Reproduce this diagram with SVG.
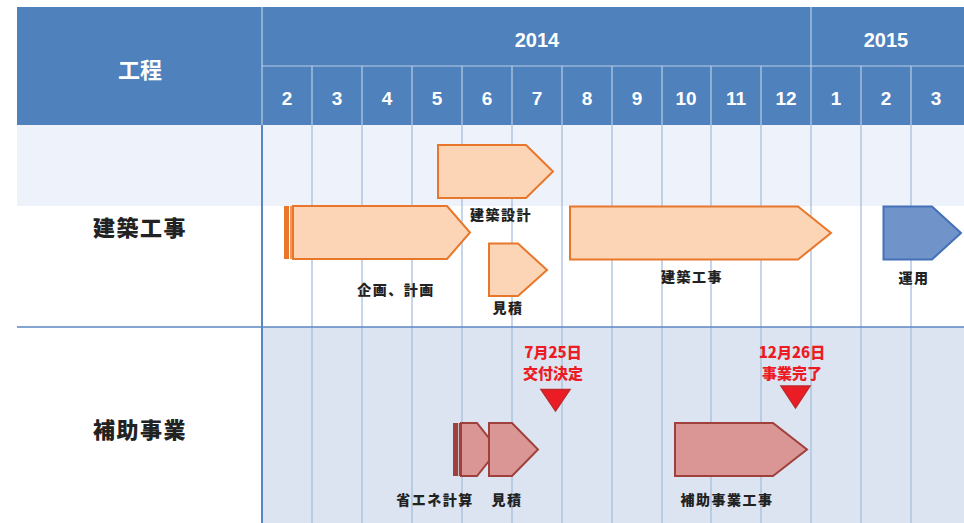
<svg xmlns="http://www.w3.org/2000/svg" width="964" height="523" viewBox="0 0 964 523">
<style>
.hdr{fill:#4F81BD}
.ht{font-family:"Liberation Sans","Noto Sans CJK JP",sans-serif;font-weight:bold;fill:#fff;text-anchor:middle}
.mo{font-size:19px}
.hl{stroke:#B9CDE5;stroke-width:1.2}
.gl{stroke:#A8BFDE;stroke-width:1.3}
.ob{fill:#FBD5B5;stroke:#E8762B;stroke-width:2}
.rb{fill:#D99694;stroke:#A0403D;stroke-width:2}
.lb{font-family:"Noto Sans CJK JP","Liberation Sans",sans-serif;font-weight:900;font-size:14px;letter-spacing:1.5px;fill:#222;text-anchor:middle}
.rl{font-family:"Noto Sans CJK JP","Liberation Sans",sans-serif;font-weight:900;font-size:15px;fill:#EC1C24;text-anchor:middle}
.big{font-family:"Noto Sans CJK JP","Liberation Sans",sans-serif;font-weight:900;font-size:22px;letter-spacing:1.5px;fill:#222;text-anchor:middle}
.tri{fill:#EC1C24;stroke:#C0282B;stroke-width:1.5}
</style>
<rect width="964" height="523" fill="#fff"/>
<g id="background">
<rect x="17" y="125" width="947" height="81" fill="#EEF2FA"/>
<rect x="262" y="327" width="702" height="196" fill="#DCE4F1"/>
</g>
<g id="header">
<rect class="hdr" x="17" y="7" width="947" height="118"/>
<line class="hl" x1="262" y1="7" x2="262" y2="125"/>
<line class="hl" x1="811" y1="7" x2="811" y2="125"/>
<line class="hl" x1="262" y1="66" x2="964" y2="66"/>
<g class="hl">
<line x1="312" y1="66" x2="312" y2="125"/><line x1="362" y1="66" x2="362" y2="125"/><line x1="412" y1="66" x2="412" y2="125"/><line x1="462" y1="66" x2="462" y2="125"/><line x1="512" y1="66" x2="512" y2="125"/><line x1="562" y1="66" x2="562" y2="125"/><line x1="612" y1="66" x2="612" y2="125"/><line x1="662" y1="66" x2="662" y2="125"/><line x1="711" y1="66" x2="711" y2="125"/><line x1="761" y1="66" x2="761" y2="125"/><line x1="861" y1="66" x2="861" y2="125"/><line x1="911" y1="66" x2="911" y2="125"/>
</g>
<text class="ht" x="140" y="78" font-size="22" font-family="Noto Sans CJK JP,sans-serif">工程</text>
<text class="ht" x="537" y="47" font-size="20">2014</text>
<text class="ht" x="886" y="47" font-size="20">2015</text>
<g class="ht mo">
<text x="287" y="105">2</text><text x="337" y="105">3</text><text x="387" y="105">4</text><text x="437" y="105">5</text><text x="487" y="105">6</text><text x="537" y="105">7</text><text x="587" y="105">8</text><text x="637" y="105">9</text><text x="686" y="105">10</text><text x="736" y="105">11</text><text x="786" y="105">12</text><text x="836" y="105">1</text><text x="886" y="105">2</text><text x="936" y="105">3</text>
</g>
</g>
<g id="grid">
<g class="gl">
<line x1="312" y1="125" x2="312" y2="523"/><line x1="362" y1="125" x2="362" y2="523"/><line x1="412" y1="125" x2="412" y2="523"/><line x1="462" y1="125" x2="462" y2="523"/><line x1="512" y1="125" x2="512" y2="523"/><line x1="562" y1="125" x2="562" y2="523"/><line x1="612" y1="125" x2="612" y2="523"/><line x1="662" y1="125" x2="662" y2="523"/><line x1="711" y1="125" x2="711" y2="523"/><line x1="761" y1="125" x2="761" y2="523"/><line x1="811" y1="125" x2="811" y2="523"/><line x1="861" y1="125" x2="861" y2="523"/><line x1="911" y1="125" x2="911" y2="523"/>
</g>
<line x1="17" y1="327" x2="964" y2="327" stroke="#5B86C5" stroke-width="1.5"/>
<line x1="262" y1="125" x2="262" y2="523" stroke="#5B86C5" stroke-width="2"/>
</g>
<g id="row-labels">
<text class="big" x="140" y="236">建築工事</text>
<text class="big" x="140" y="438">補助事業</text>
</g>
<g id="kenchiku-sekkei">
<polygon class="ob" points="438,145 526,145 553,171.5 526,198 438,198"/>
<text class="lb" x="501" y="220">建築設計</text>
</g>
<g id="kikaku-keikaku">
<rect x="284" y="206" width="5" height="53" fill="#E8762B"/>
<line x1="291" y1="206" x2="291" y2="259" stroke="#E8762B" stroke-width="1.5"/>
<polygon class="ob" points="293,206 447,206 470,232.5 447,259 293,259"/>
<text class="lb" x="396" y="295">企画、計画</text>
</g>
<g id="mitsumori-1">
<polygon class="ob" points="489,243.5 518,243.5 547,270 518,296 489,296"/>
<text class="lb" x="508" y="313">見積</text>
</g>
<g id="kenchiku-kouji">
<polygon class="ob" points="570,206.5 798,206.5 831,233 798,259.5 570,259.5"/>
<text class="lb" x="692" y="282">建築工事</text>
</g>
<g id="unyou">
<polygon points="883.5,206.5 932,206.5 961,233 932,259.5 883.5,259.5" fill="#7093CA" stroke="#4470B8" stroke-width="2"/>
<text class="lb" x="914" y="283">運用</text>
</g>
<g id="shouene">
<rect x="453" y="423" width="5" height="53" fill="#A0403D"/>
<line x1="459.5" y1="423" x2="459.5" y2="476" stroke="#A0403D" stroke-width="1.5"/>
<polygon class="rb" points="461,423 477,423 498,449.5 477,476 461,476"/>
<text class="lb" x="435" y="505">省エネ計算</text>
</g>
<g id="mitsumori-2">
<polygon class="rb" points="489,423 512,423 538,449.5 512,476 489,476"/>
<text class="lb" x="507" y="505">見積</text>
</g>
<g id="hojo-kouji">
<polygon class="rb" points="675,423 773,423 807,449.5 773,476 675,476"/>
<text class="lb" x="727" y="505">補助事業工事</text>
</g>
<g id="milestone-1">
<text class="rl" x="553" y="358">7月25日</text>
<text class="rl" x="553" y="379">交付決定</text>
<polygon class="tri" points="541,389.5 570,389.5 555.5,411"/>
</g>
<g id="milestone-2">
<text class="rl" x="792" y="358">12月26日</text>
<text class="rl" x="792" y="379">事業完了</text>
<polygon class="tri" points="781,386 810,386 795.5,408"/>
</g>
</svg>
